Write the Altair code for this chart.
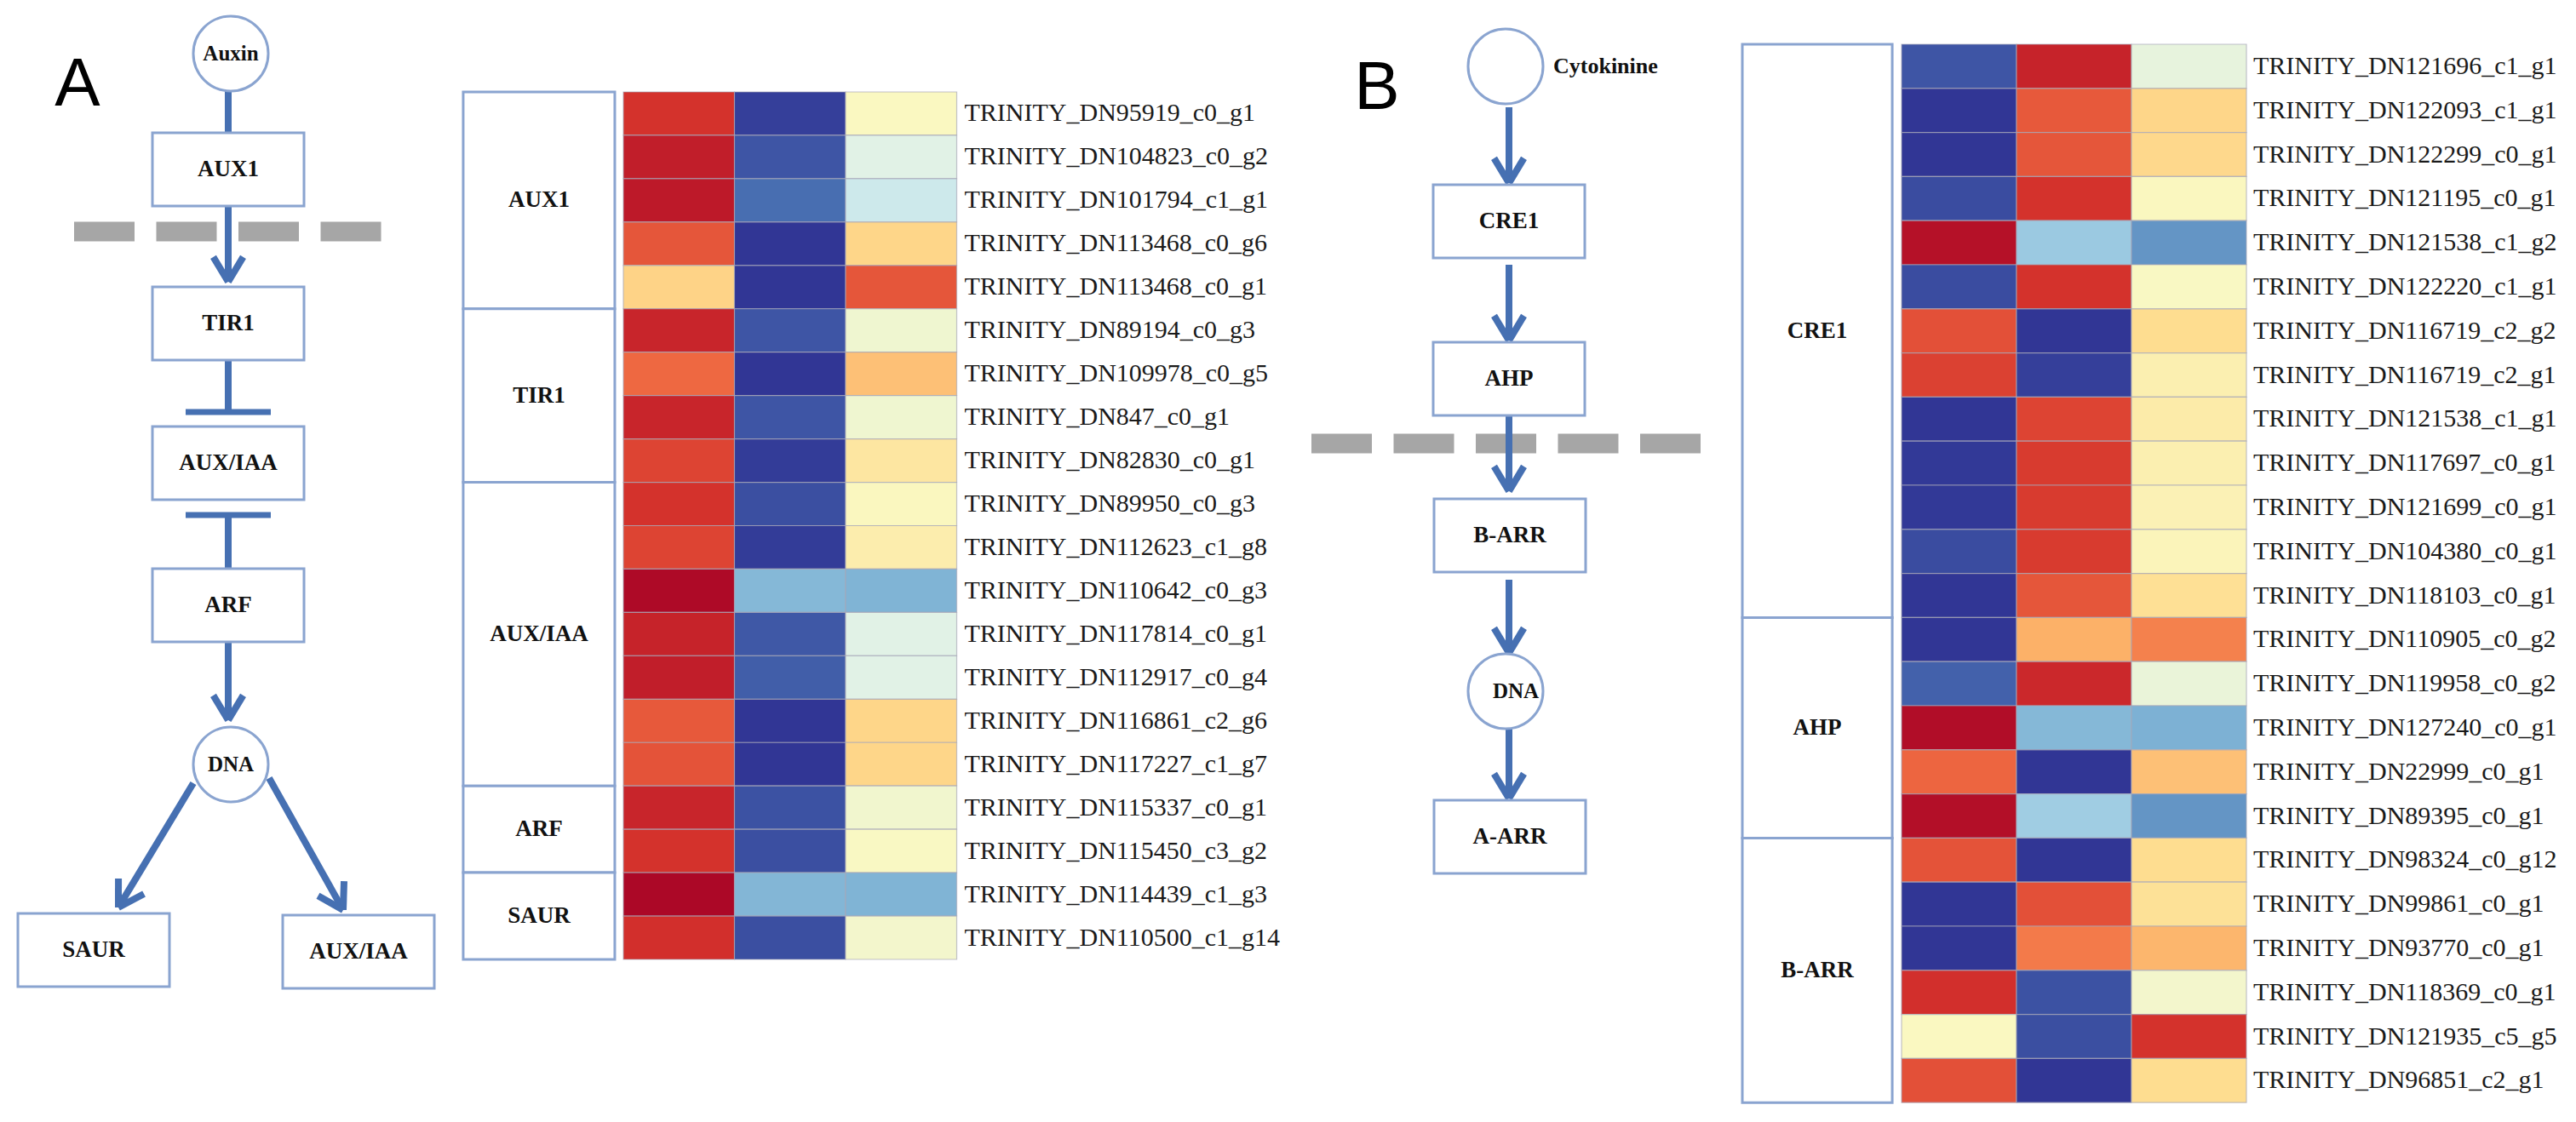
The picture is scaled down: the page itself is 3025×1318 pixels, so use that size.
import math
import altair as alt
import pandas as pd

# ---------------- data ----------------
genes_A = ["TRINITY_DN95919_c0_g1", "TRINITY_DN104823_c0_g2", "TRINITY_DN101794_c1_g1",
           "TRINITY_DN113468_c0_g6", "TRINITY_DN113468_c0_g1", "TRINITY_DN89194_c0_g3",
           "TRINITY_DN109978_c0_g5", "TRINITY_DN847_c0_g1", "TRINITY_DN82830_c0_g1",
           "TRINITY_DN89950_c0_g3", "TRINITY_DN112623_c1_g8", "TRINITY_DN110642_c0_g3",
           "TRINITY_DN117814_c0_g1", "TRINITY_DN112917_c0_g4", "TRINITY_DN116861_c2_g6",
           "TRINITY_DN117227_c1_g7", "TRINITY_DN115337_c0_g1", "TRINITY_DN115450_c3_g2",
           "TRINITY_DN114439_c1_g3", "TRINITY_DN110500_c1_g14"]
groups_A = ["AUX1", "TIR1", "AUX/IAA", "ARF", "SAUR"]
group_sizes_A = [5, 4, 7, 2, 2]
s1_A = [0.80, 0.88, 0.90, 0.68, 0.24, 0.85, 0.62, 0.85, 0.74, 0.80,
        0.74, 0.96, 0.86, 0.88, 0.67, 0.69, 0.85, 0.80, 0.97, 0.81]
s2_A = [-0.97, -0.90, -0.82, -1.00, -1.00, -0.90, -1.00, -0.90, -0.98, -0.92,
        -0.98, -0.54, -0.89, -0.87, -1.00, -1.00, -0.91, -0.92, -0.55, -0.92]
s3_A = [0.00, -0.17, -0.26, 0.23, 0.68, -0.07, 0.32, -0.07, 0.13, 0.01,
        0.08, -0.56, -0.17, -0.17, 0.23, 0.23, -0.06, -0.01, -0.56, -0.05]

genes_B = ["TRINITY_DN121696_c1_g1", "TRINITY_DN122093_c1_g1", "TRINITY_DN122299_c0_g1",
           "TRINITY_DN121195_c0_g1", "TRINITY_DN121538_c1_g2", "TRINITY_DN122220_c1_g1",
           "TRINITY_DN116719_c2_g2", "TRINITY_DN116719_c2_g1", "TRINITY_DN121538_c1_g1",
           "TRINITY_DN117697_c0_g1", "TRINITY_DN121699_c0_g1", "TRINITY_DN104380_c0_g1",
           "TRINITY_DN118103_c0_g1", "TRINITY_DN110905_c0_g2", "TRINITY_DN119958_c0_g2",
           "TRINITY_DN127240_c0_g1", "TRINITY_DN22999_c0_g1", "TRINITY_DN89395_c0_g1",
           "TRINITY_DN98324_c0_g12", "TRINITY_DN99861_c0_g1", "TRINITY_DN93770_c0_g1",
           "TRINITY_DN118369_c0_g1", "TRINITY_DN121935_c5_g5", "TRINITY_DN96851_c2_g1"]
groups_B = ["CRE1", "AHP", "B-ARR"]
group_sizes_B = [13, 5, 6]
s1_B = [-0.90, -1.00, -1.00, -0.93, 0.93, -0.93, 0.70, 0.75, -1.00, -0.99, -0.99, -0.93,
        -1.00, -1.00, -0.86, 0.95, 0.63, 0.94, 0.69, -1.00, -1.00, 0.81, 0.00, 0.70]
s2_B = [0.86, 0.67, 0.68, 0.80, -0.46, 0.80, -1.00, -0.97, 0.74, 0.77, 0.77, 0.77,
        0.68, 0.38, 0.84, -0.54, -1.00, -0.44, -1.00, 0.70, 0.56, -0.91, -0.92, -1.00]
s3_B = [-0.13, 0.23, 0.22, 0.01, -0.68, -0.01, 0.20, 0.07, 0.10, 0.07, 0.05, 0.03,
        0.18, 0.54, -0.11, -0.57, 0.32, -0.68, 0.20, 0.17, 0.36, -0.05, 0.80, 0.20]

nodes_A = ["Auxin", "AUX1", "TIR1", "AUX/IAA", "ARF", "DNA", "SAUR", "AUX/IAA"]
nodes_B = ["Cytokinine", "CRE1", "AHP", "B-ARR", "DNA", "A-ARR"]

# ---------------- layout / style ----------------
H = 1296
PAGE_Y0 = 8
BLUE = "#4670b2"
BOX = "#8aa4d0"
GREY = "#a6a6a6"
SERIF = "Liberation Serif"

# diagram node layout (page pixels): kind, cx, cy
lay_A = [("circle", 271, 63), ("box", 268, 199), ("box", 268, 380), ("box", 268, 544),
         ("box", 268, 711), ("circle", 271, 898), ("box", 110, 1116), ("box", 421, 1118)]
lay_B = [("circle", 1768, 78), ("box", 1772, 260), ("box", 1772, 445), ("box", 1773, 629),
         ("circle", 1768, 812), ("box", 1773, 983)]
BOX_HW, BOX_HH, CIRC_R = 89, 43, 44

# edges: (x1, y1, x2, y2, type)
edges_A = [(268, 107, 268, 156, "line"), (268, 242, 268, 331, "arrow"),
           (268, 423, 268, 484, "inhibit_end"), (268, 605, 268, 667, "inhibit_start"),
           (268, 755, 268, 846, "arrow"), (227, 920, 139, 1066, "arrow"),
           (316, 914, 403, 1069, "arrow")]
edges_B = [(1772, 126, 1772, 215, "arrow"), (1772, 311, 1772, 400, "arrow"),
           (1772, 488, 1772, 577, "arrow"), (1772, 681, 1772, 767, "arrow"),
           (1772, 856, 1772, 938, "arrow")]
dash_A = (87, 448, 272)
dash_B = (1540, 1997, 521)


def segs_from_edges(edges):
    rows = []
    for x1, y1, x2, y2, t in edges:
        dx, dy = x2 - x1, y2 - y1
        L = math.hypot(dx, dy)
        ux, uy = dx / L, dy / L
        if t == "arrow":
            rows.append(dict(x=x1, y=y1, x2=x2 - ux * 3, y2=y2 - uy * 3, w=8))
            for ang in (math.radians(31), -math.radians(31)):
                bx, by = -ux, -uy
                rx = bx * math.cos(ang) - by * math.sin(ang)
                ry = bx * math.sin(ang) + by * math.cos(ang)
                rows.append(dict(x=x2, y=y2, x2=x2 + rx * 34, y2=y2 + ry * 34, w=8))
        elif t == "line":
            rows.append(dict(x=x1, y=y1, x2=x2, y2=y2, w=8))
        elif t == "inhibit_end":
            rows.append(dict(x=x1, y=y1, x2=x2, y2=y2, w=8))
            rows.append(dict(x=x2 - 50, y=y2, x2=x2 + 50, y2=y2, w=7))
        elif t == "inhibit_start":
            rows.append(dict(x=x1, y=y1, x2=x2, y2=y2, w=8))
            rows.append(dict(x=x1 - 50, y=y1, x2=x1 + 50, y2=y1, w=7))
    return pd.DataFrame(rows)


def diagram(nodes, lay, edges, dash, letter, letter_xy, x0, w, side_label=None):
    xs = alt.Scale(domain=[x0, x0 + w], nice=False, zero=False)
    ys = alt.Scale(domain=[PAGE_Y0, PAGE_Y0 + H], nice=False, zero=False, reverse=True)
    X = lambda f: alt.X(f, type="quantitative", scale=xs, axis=None)
    Y = lambda f: alt.Y(f, type="quantitative", scale=ys, axis=None)

    nd = pd.DataFrame([dict(name=n, kind=k, cx=cx, cy=cy,
                            x1=cx - BOX_HW, x2=cx + BOX_HW, y1=cy - BOX_HH, y2=cy + BOX_HH)
                       for n, (k, cx, cy) in zip(nodes, lay)])
    boxes = nd[nd.kind == "box"]
    circles = nd[nd.kind == "circle"]

    dash_df = pd.DataFrame([dict(x=dash[0], x2=dash[1], y=dash[2])])
    dash_layer = alt.Chart(dash_df).mark_rule(color=GREY, strokeWidth=23, strokeDash=[71, 25.5],
                                              strokeCap="butt").encode(
        x=X("x"), x2="x2", y=Y("y"))

    seg = segs_from_edges(edges)
    seg_layers = []
    for wv in sorted(seg.w.unique()):
        seg_layers.append(alt.Chart(seg[seg.w == wv]).mark_rule(
            color=BLUE, strokeWidth=float(wv), strokeCap="butt").encode(
            x=X("x"), y=Y("y"), x2="x2", y2="y2"))

    box_layer = alt.Chart(boxes).mark_rect(fill="white", stroke=BOX, strokeWidth=3).encode(
        x=X("x1"), x2="x2", y=Y("y1"), y2="y2")
    box_text = alt.Chart(boxes).mark_text(font=SERIF, fontWeight="bold", fontSize=27,
                                          color="#111", baseline="middle").encode(
        x=X("cx"), y=Y("cy"), text="name")

    circ_layer = alt.Chart(circles).mark_point(shape="circle", size=(2 * CIRC_R) ** 2, filled=True,
                                               fill="white", stroke=BOX, strokeWidth=3,
                                               opacity=1).encode(x=X("cx"), y=Y("cy"))
    layers = [dash_layer] + seg_layers + [box_layer, box_text, circ_layer]

    if side_label is None:
        ct = alt.Chart(circles).mark_text(font=SERIF, fontWeight="bold", fontSize=25,
                                          color="#111", baseline="middle").encode(
            x=X("cx"), y=Y("cy"), text="name")
        layers.append(ct)
    else:
        inside = circles[circles.name == "DNA"]
        outside = circles[circles.name != "DNA"]
        layers.append(alt.Chart(inside).mark_text(font=SERIF, fontWeight="bold", fontSize=25,
                                                  color="#111", baseline="middle", dx=12).encode(
            x=X("cx"), y=Y("cy"), text="name"))
        layers.append(alt.Chart(outside).mark_text(font=SERIF, fontWeight="bold", fontSize=26,
                                                   color="#111", baseline="middle", align="left",
                                                   dx=56).encode(
            x=X("cx"), y=Y("cy"), text="name"))

    let_df = pd.DataFrame([dict(t=letter, x=letter_xy[0], y=letter_xy[1])])
    layers.append(alt.Chart(let_df).mark_text(font="Liberation Sans", fontSize=80, color="#000",
                                              baseline="alphabetic").encode(
        x=X("x"), y=Y("y"), text="t"))
    return alt.layer(*layers).properties(width=w, height=H)


def heatmap(genes, groups, sizes, s1, s2, s3, x0, w, cells_left, col_w, top, row_h,
            gx1, gx2, label_dx):
    xd0 = -(cells_left - x0) / col_w
    xs = alt.Scale(domain=[xd0, xd0 + w / col_w], nice=False, zero=False)
    yd0 = -(top - PAGE_Y0) / row_h
    ys = alt.Scale(domain=[yd0, yd0 + H / row_h], nice=False, zero=False, reverse=True)
    X = lambda f: alt.X(f, type="quantitative", scale=xs, axis=None)
    Y = lambda f: alt.Y(f, type="quantitative", scale=ys, axis=None)

    rows = []
    for i, g in enumerate(genes):
        for j, v in enumerate((s1[i], s2[i], s3[i])):
            rows.append(dict(gene=g, r0=i, r1=i + 1, c0=j, c1=j + 1, value=v))
    cells = pd.DataFrame(rows)
    lab = pd.DataFrame(dict(gene=genes, r=[i + 0.5 for i in range(len(genes))],
                            c=[3] * len(genes)))
    starts = [sum(sizes[:k]) for k in range(len(sizes))]
    grp = pd.DataFrame(dict(g=groups, s=starts, e=[s + n for s, n in zip(starts, sizes)],
                            gx1=[gx1] * len(groups), gx2=[gx2] * len(groups)))
    grp["m"] = (grp.s + grp.e) / 2
    grp["gc"] = (grp.gx1 + grp.gx2) / 2

    cell_layer = alt.Chart(cells).mark_rect(stroke="#a8a8b8", strokeWidth=1.2,
                                            strokeOpacity=0.7).encode(
        x=X("c0"), x2="c1", y=Y("r0"), y2="r1",
        color=alt.Color("value:Q", scale=alt.Scale(scheme="redyellowblue", reverse=True,
                                                   domain=[-1, 1]), legend=None))
    grp_layer = alt.Chart(grp).mark_rect(fill="white", stroke=BOX, strokeWidth=3).encode(
        x=X("gx1"), x2="gx2", y=Y("s"), y2="e")
    grp_text = alt.Chart(grp).mark_text(font=SERIF, fontWeight="bold", fontSize=27,
                                        color="#111", baseline="middle").encode(
        x=X("gc"), y=Y("m"), text="g")
    lab_layer = alt.Chart(lab).mark_text(font=SERIF, fontSize=30, color="#1a1a1a",
                                         align="left", baseline="middle", dx=label_dx).encode(
        x=X("c"), y=Y("r"), text="gene")
    return alt.layer(cell_layer, grp_layer, grp_text, lab_layer).properties(width=w, height=H)


dA = diagram(nodes_A, lay_A, edges_A, dash_A, "A", (91, 124), 8, 522)
hA = heatmap(genes_A, groups_A, group_sizes_A, s1_A, s2_A, s3_A, 530, 990, 732, 130.5, 108,
             50.95, -1.441, -0.077, 9)
dB = diagram(nodes_B, lay_B, edges_B, dash_B, "B", (1617, 128), 1520, 510, side_label=True)
hB = heatmap(genes_B, groups_B, group_sizes_B, s1_B, s2_B, s3_B, 2030, 980, 2233, 135, 52,
             51.8, -1.385, -0.081, 8)

chart = alt.hconcat(dA, hA, dB, hB, spacing=0, bounds="flush").properties(
    padding=0, background="white").configure(
    view=alt.ViewConfig(strokeWidth=0, stroke="transparent"))

chart.save("out.html", embed_options={"renderer": "svg", "actions": False})
